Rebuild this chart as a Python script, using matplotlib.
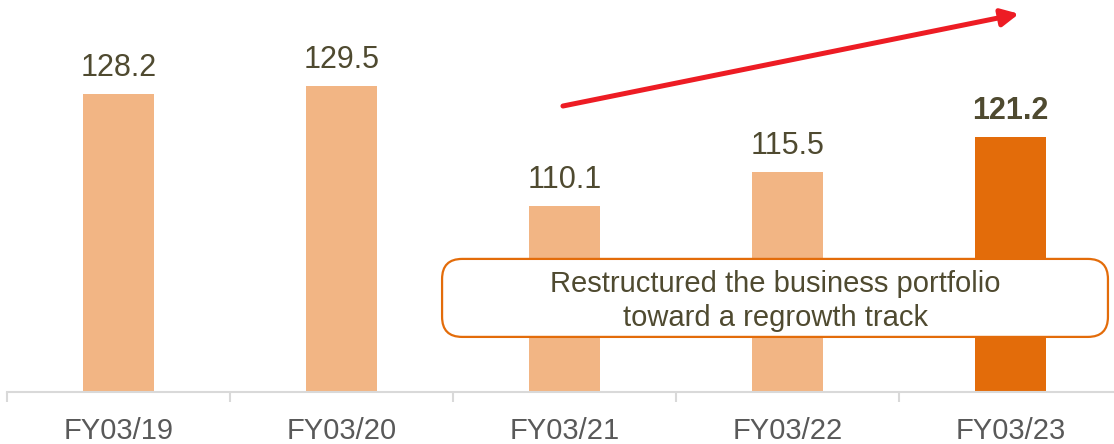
import matplotlib
matplotlib.use('Agg')
import matplotlib.pyplot as plt
from matplotlib.patches import FancyBboxPatch

plt.rcParams['font.family'] = ['Liberation Sans', 'DejaVu Sans']

# sales by fiscal year
years = ['FY03/19', 'FY03/20', 'FY03/21', 'FY03/22', 'FY03/23']
values = [128.2, 129.5, 110.1, 115.5, 121.2]
note_lines = ['Restructured the business portfolio', 'toward a regrowth track']

LIGHT = '#f2b584'
DARK = '#e36c0a'
TXT = '#4f4a30'
GRAY = '#595959'

fig = plt.figure(figsize=(11.14, 4.44), dpi=100)
ax = fig.add_axes([7 / 1114, 52 / 444, 1115 / 1114, 392 / 444])

x = list(range(len(years)))
colors = [LIGHT] * (len(years) - 1) + [DARK]
ax.bar(x, values, width=0.315, color=colors, zorder=2)

for i, v in enumerate(values):
    bold = i == len(values) - 1
    ax.annotate(f'{v:.1f}', xy=(i, v), xytext=(0, 13), textcoords='offset points',
                ha='center', va='baseline', fontsize=22, color=TXT,
                fontweight='bold' if bold else 'normal')

ax.set_xlim(-0.5, len(years) - 0.5)
ax.set_ylim(80, 80 + 392 / 6.19)

for s in ['top', 'right', 'left']:
    ax.spines[s].set_visible(False)
ax.spines['bottom'].set_color('#d9d9d9')
ax.spines['bottom'].set_linewidth(1.5)
ax.set_yticks([])

ax.set_xticks(x)
ax.set_xticklabels(years, fontsize=21, color=GRAY)
ax.tick_params(axis='x', which='major', length=0, pad=18)
ax.set_xticks([i - 0.5 for i in range(len(years) + 1)], minor=True)
ax.tick_params(axis='x', which='minor', length=7, width=1.5, color='#d9d9d9', direction='out')

# trend arrow
ax.annotate('', xy=(4.038, 141.1), xytext=(1.993, 126.2),
            arrowprops=dict(arrowstyle='-|>', color='#ed1c24', lw=3.6,
                            mutation_scale=26, shrinkA=0, shrinkB=0),
            annotation_clip=False)

# note box
bx0, bx1 = 1.451, 4.437
by0, by1 = 88.9, 101.5
box = FancyBboxPatch((bx0, by0), bx1 - bx0, by1 - by0,
                     boxstyle='round,pad=0,rounding_size=0.09',
                     mutation_aspect=223 / 6.19,
                     facecolor='white', edgecolor=DARK, linewidth=1.6, zorder=3)
ax.add_patch(box)
ax.text((bx0 + bx1) / 2, (by0 + by1) / 2 - 0.5, '\n'.join(note_lines),
        ha='center', va='center', fontsize=21, color=TXT, linespacing=1.25, zorder=4)

fig.savefig('out.png', dpi=100)
